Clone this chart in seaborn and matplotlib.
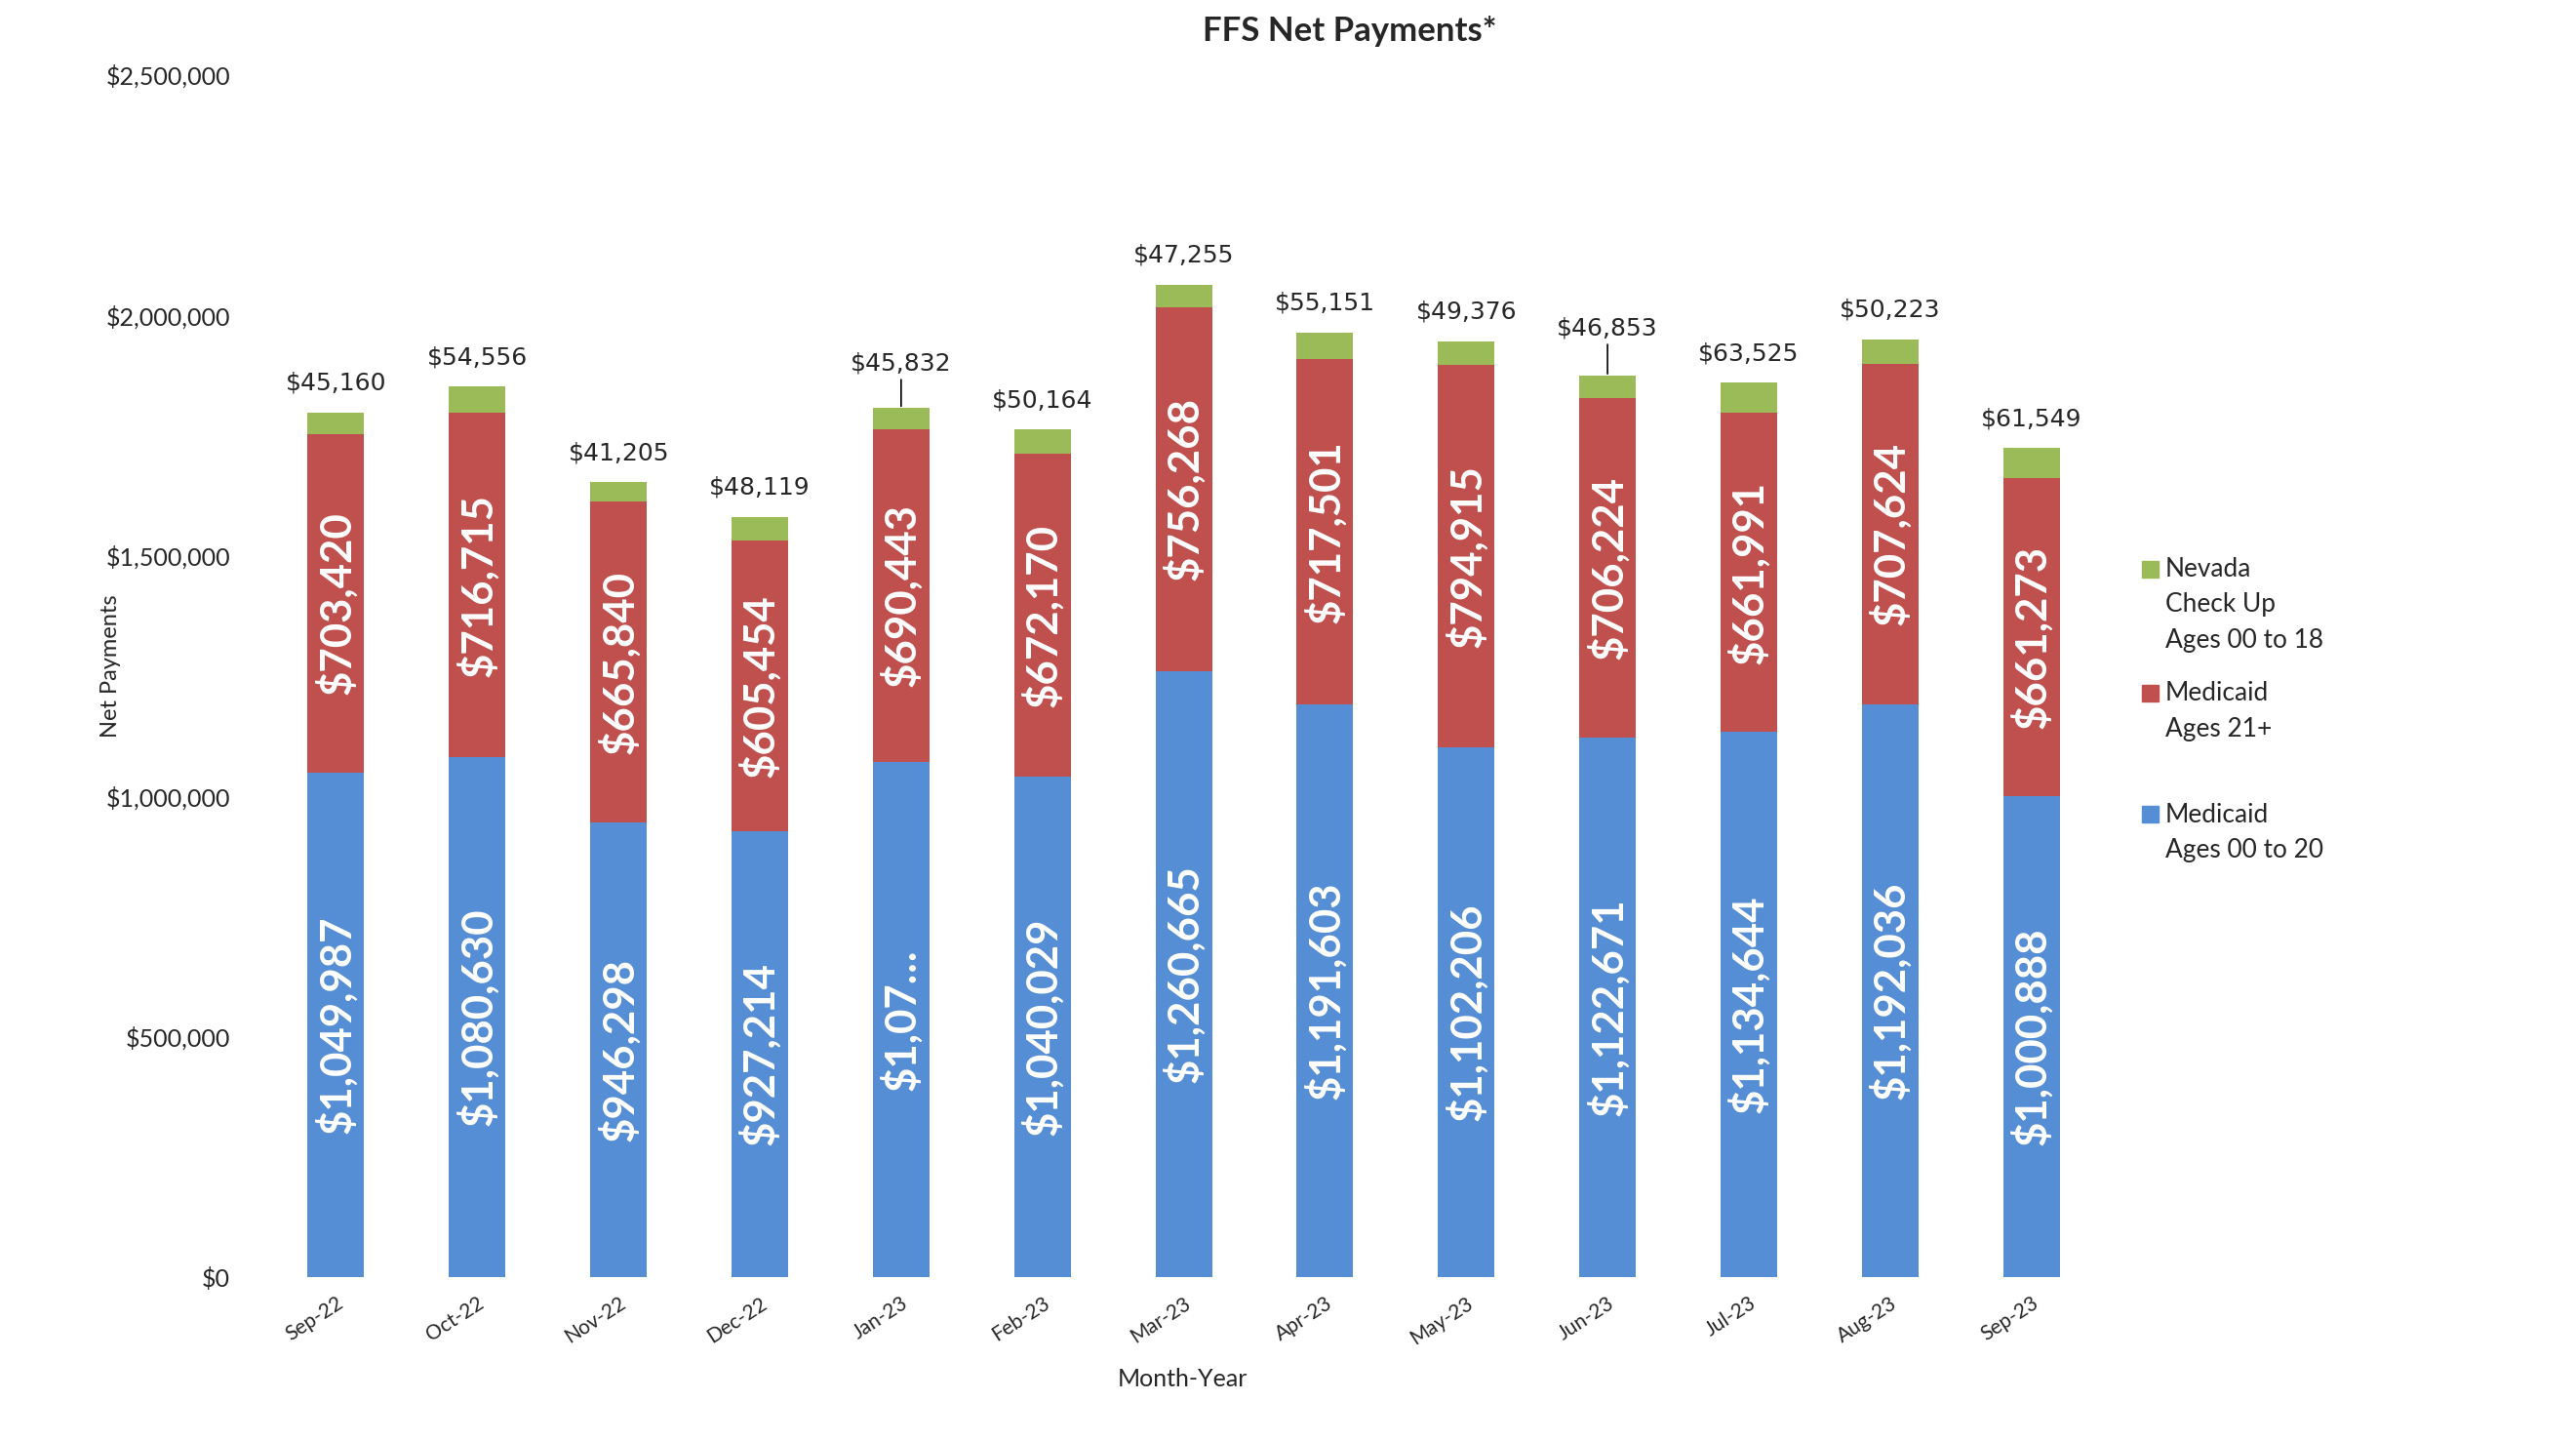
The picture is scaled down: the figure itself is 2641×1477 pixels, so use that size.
import numpy as np
import pandas as pd
import matplotlib
matplotlib.use("Agg")
import matplotlib.pyplot as plt
from matplotlib.patches import Rectangle
import seaborn as sns

months = ['Sep-22', 'Oct-22', 'Nov-22', 'Dec-22', 'Jan-23', 'Feb-23', 'Mar-23',
          'Apr-23', 'May-23', 'Jun-23', 'Jul-23', 'Aug-23', 'Sep-23']
medicaid_0_20 = [1049987, 1080630, 946298, 927214, 1072000, 1040029, 1260665,
                 1191603, 1102206, 1122671, 1134644, 1192036, 1000888]
medicaid_21 = [703420, 716715, 665840, 605454, 690443, 672170, 756268,
               717501, 794915, 706224, 661991, 707624, 661273]
nevada_checkup = [45160, 54556, 41205, 48119, 45832, 50164, 47255,
                  55151, 49376, 46853, 63525, 50223, 61549]
legend_labels = ['Nevada\nCheck Up\nAges 00 to 18', 'Medicaid\nAges 21+', 'Medicaid\nAges 00 to 20']
yticks = [0, 500000, 1000000, 1500000, 2000000, 2500000]

BLUE = '#558ED5'
RED = '#C0504D'
GREEN = '#9BBB59'

df = pd.DataFrame({'month': months, 'blue': medicaid_0_20,
                   'red': medicaid_21, 'green': nevada_checkup})
df['blue_red'] = df['blue'] + df['red']
df['total'] = df['blue_red'] + df['green']

sns.set_style('white')
plt.rcParams['font.family'] = ['Lato', 'DejaVu Sans']

fig = plt.figure(figsize=(26.41, 14.77), dpi=100)
ax = fig.add_axes([0.103, 0.1137, 0.713, 0.8343])

# stacked bars by overlapping cumulative totals
for col, c in [('total', GREEN), ('blue_red', RED), ('blue', BLUE)]:
    sns.barplot(data=df, x='month', y=col, color=c, saturation=1, width=0.4,
                linewidth=0, ax=ax)

ax.set_xlim(-0.5, len(months) - 0.5)
ax.set_ylim(0, 2500000)
ax.set_yticks(yticks)
ax.set_yticklabels([f'${v:,}' for v in yticks], fontsize=18)
ax.tick_params(axis='y', length=0, pad=26)
ax.tick_params(axis='x', length=0, pad=12)
ax.set_xticks(range(len(months)))
ax.set_xticklabels(months, rotation=33, ha='right', rotation_mode='anchor', fontsize=15)
ax.set_xlabel('')
ax.set_ylabel('')
sns.despine(ax=ax, left=True, bottom=True)

# in-bar labels
blue_labels = [f'${v:,}' for v in medicaid_0_20]
blue_labels[4] = '$1,07\u2026'
for i in range(len(months)):
    ax.text(i, df['blue'][i] / 2, blue_labels[i], rotation=90, ha='center', va='center',
            color='white', fontsize=31.5, fontweight='bold')
    ax.text(i, df['blue'][i] + df['red'][i] / 2, f'${medicaid_21[i]:,}', rotation=90,
            ha='center', va='center', color='white', fontsize=31.5, fontweight='bold')

# labels for the small segment, two of them moved up with leader lines
leader = {4: 24, 9: 26}
for i in range(len(months)):
    off = leader.get(i, 13)
    ax.annotate(f'${nevada_checkup[i]:,}', xy=(i, df['total'][i]), xytext=(0, off),
                textcoords='offset points', ha='center', va='bottom', fontsize=18,
                family='DejaVu Sans',
                arrowprops=dict(arrowstyle='-', color='black', lw=1.2,
                                shrinkA=1, shrinkB=1) if i in leader else None)

fig.text(0.524, 0.978, 'FFS Net Payments*', ha='center', va='center',
         fontsize=25, fontweight='bold')
fig.text(0.043, 0.538, 'Net Payments', rotation=90, ha='center', va='center', fontsize=17)
fig.text(0.459, 0.043, 'Month-Year', ha='center', va='center', fontsize=18)

# legend
leg_y = [0.605, 0.5186, 0.4346]
for lab, c, y in zip(legend_labels, [GREEN, RED, BLUE], leg_y):
    fig.patches.append(Rectangle((0.8315, y - 0.0055), 0.0065, 0.0115,
                                 transform=fig.transFigure, color=c, figure=fig))
    fig.text(0.8405, y + 0.0085, lab, ha='left', va='top', fontsize=18.9, linespacing=1.57)

fig.savefig('out.png', dpi=100)
